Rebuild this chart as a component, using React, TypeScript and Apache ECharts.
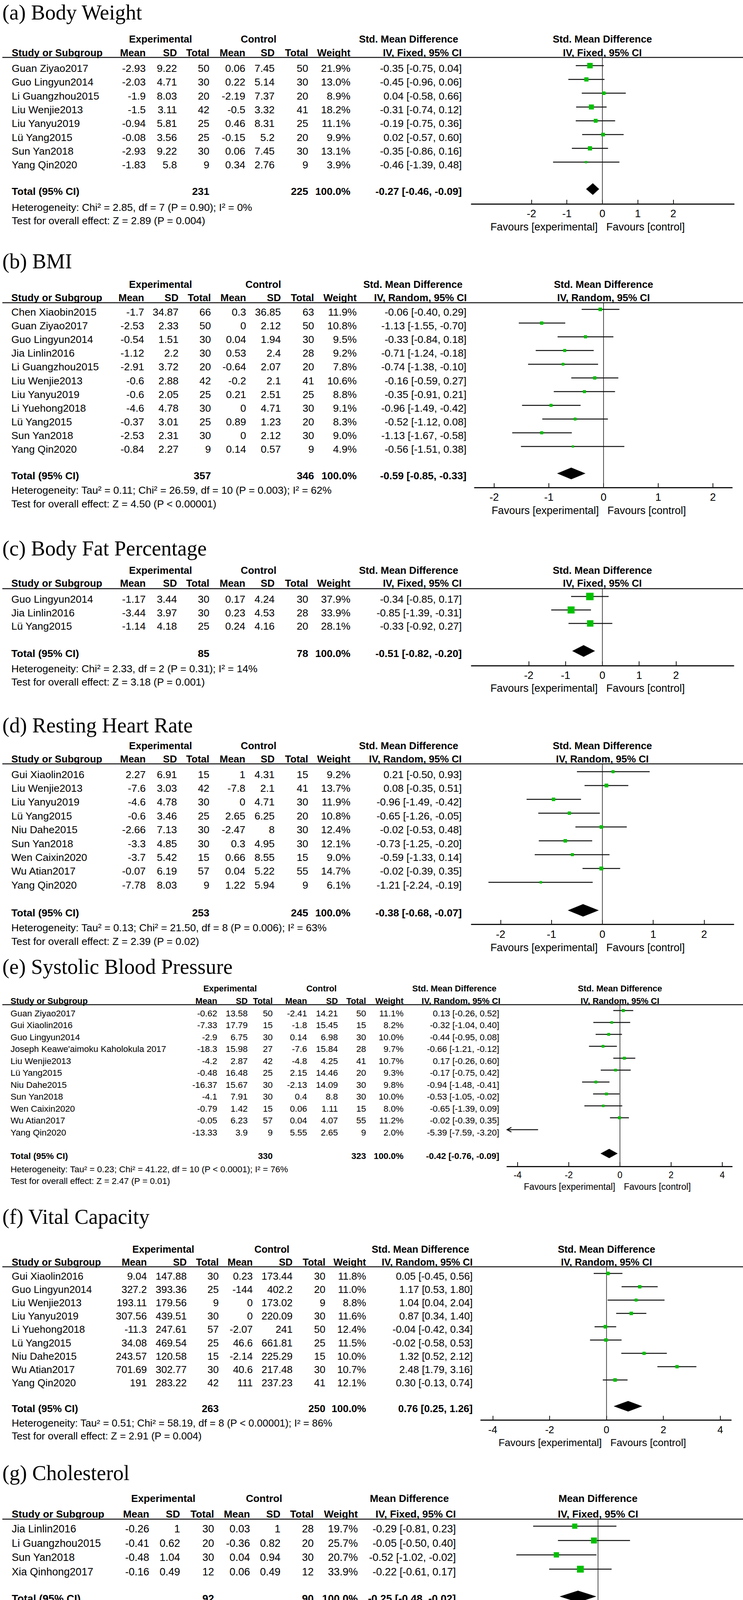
import React, { useEffect, useRef } from "react";
import * as echarts from "echarts";

// ---------------- DATA ----------------
// value columns: exp mean, exp SD, exp total, ctl mean, ctl SD, ctl total, weight %, estimate, CI low, CI high
const bodyWeightStudies = ["Guan Ziyao2017", "Guo Lingyun2014", "Li Guangzhou2015", "Liu Wenjie2013", "Liu Yanyu2019", "Lü Yang2015", "Sun Yan2018", "Yang Qin2020"];
const bodyWeightValues = [
  [-2.93, 9.22, 50, 0.06, 7.45, 50, 21.9, -0.35, -0.75, 0.04],
  [-2.03, 4.71, 30, 0.22, 5.14, 30, 13.0, -0.45, -0.96, 0.06],
  [-1.9, 8.03, 20, -2.19, 7.37, 20, 8.9, 0.04, -0.58, 0.66],
  [-1.5, 3.11, 42, -0.5, 3.32, 41, 18.2, -0.31, -0.74, 0.12],
  [-0.94, 5.81, 25, 0.46, 8.31, 25, 11.1, -0.19, -0.75, 0.36],
  [-0.08, 3.56, 25, -0.15, 5.2, 20, 9.9, 0.02, -0.57, 0.6],
  [-2.93, 9.22, 30, 0.06, 7.45, 30, 13.1, -0.35, -0.86, 0.16],
  [-1.83, 5.8, 9, 0.34, 2.76, 9, 3.9, -0.46, -1.39, 0.48],
];
const bodyWeightTotal = [231, 225, 100.0, -0.27, -0.46, -0.09];
const bodyWeightHet = "Heterogeneity: Chi² = 2.85, df = 7 (P = 0.90); I² = 0%";
const bodyWeightTest = "Test for overall effect: Z = 2.89 (P = 0.004)";

const bmiStudies = ["Chen Xiaobin2015", "Guan Ziyao2017", "Guo Lingyun2014", "Jia Linlin2016", "Li Guangzhou2015", "Liu Wenjie2013", "Liu Yanyu2019", "Li Yuehong2018", "Lü Yang2015", "Sun Yan2018", "Yang Qin2020"];
const bmiValues = [
  [-1.7, 34.87, 66, 0.3, 36.85, 63, 11.9, -0.06, -0.4, 0.29],
  [-2.53, 2.33, 50, 0, 2.12, 50, 10.8, -1.13, -1.55, -0.7],
  [-0.54, 1.51, 30, 0.04, 1.94, 30, 9.5, -0.33, -0.84, 0.18],
  [-1.12, 2.2, 30, 0.53, 2.4, 28, 9.2, -0.71, -1.24, -0.18],
  [-2.91, 3.72, 20, -0.64, 2.07, 20, 7.8, -0.74, -1.38, -0.1],
  [-0.6, 2.88, 42, -0.2, 2.1, 41, 10.6, -0.16, -0.59, 0.27],
  [-0.6, 2.05, 25, 0.21, 2.51, 25, 8.8, -0.35, -0.91, 0.21],
  [-4.6, 4.78, 30, 0, 4.71, 30, 9.1, -0.96, -1.49, -0.42],
  [-0.37, 3.01, 25, 0.89, 1.23, 20, 8.3, -0.52, -1.12, 0.08],
  [-2.53, 2.31, 30, 0, 2.12, 30, 9.0, -1.13, -1.67, -0.58],
  [-0.84, 2.27, 9, 0.14, 0.57, 9, 4.9, -0.56, -1.51, 0.38],
];
const bmiTotal = [357, 346, 100.0, -0.59, -0.85, -0.33];
const bmiHet = "Heterogeneity: Tau² = 0.11; Chi² = 26.59, df = 10 (P = 0.003); I² = 62%";
const bmiTest = "Test for overall effect: Z = 4.50 (P < 0.00001)";

const fatStudies = ["Guo Lingyun2014", "Jia Linlin2016", "Lü Yang2015"];
const fatValues = [
  [-1.17, 3.44, 30, 0.17, 4.24, 30, 37.9, -0.34, -0.85, 0.17],
  [-3.44, 3.97, 30, 0.23, 4.53, 28, 33.9, -0.85, -1.39, -0.31],
  [-1.14, 4.18, 25, 0.24, 4.16, 20, 28.1, -0.33, -0.92, 0.27],
];
const fatTotal = [85, 78, 100.0, -0.51, -0.82, -0.2];
const fatHet = "Heterogeneity: Chi² = 2.33, df = 2 (P = 0.31); I² = 14%";
const fatTest = "Test for overall effect: Z = 3.18 (P = 0.001)";

const hrStudies = ["Gui Xiaolin2016", "Liu Wenjie2013", "Liu Yanyu2019", "Lü Yang2015", "Niu Dahe2015", "Sun Yan2018", "Wen Caixin2020", "Wu Atian2017", "Yang Qin2020"];
const hrValues = [
  [2.27, 6.91, 15, 1, 4.31, 15, 9.2, 0.21, -0.5, 0.93],
  [-7.6, 3.03, 42, -7.8, 2.1, 41, 13.7, 0.08, -0.35, 0.51],
  [-4.6, 4.78, 30, 0, 4.71, 30, 11.9, -0.96, -1.49, -0.42],
  [-0.6, 3.46, 25, 2.65, 6.25, 20, 10.8, -0.65, -1.26, -0.05],
  [-2.66, 7.13, 30, -2.47, 8, 30, 12.4, -0.02, -0.53, 0.48],
  [-3.3, 4.85, 30, 0.3, 4.95, 30, 12.1, -0.73, -1.25, -0.2],
  [-3.7, 5.42, 15, 0.66, 8.55, 15, 9.0, -0.59, -1.33, 0.14],
  [-0.07, 6.19, 57, 0.04, 5.22, 55, 14.7, -0.02, -0.39, 0.35],
  [-7.78, 8.03, 9, 1.22, 5.94, 9, 6.1, -1.21, -2.24, -0.19],
];
const hrTotal = [253, 245, 100.0, -0.38, -0.68, -0.07];
const hrHet = "Heterogeneity: Tau² = 0.13; Chi² = 21.50, df = 8 (P = 0.006); I² = 63%";
const hrTest = "Test for overall effect: Z = 2.39 (P = 0.02)";

const sbpStudies = ["Guan Ziyao2017", "Gui Xiaolin2016", "Guo Lingyun2014", "Joseph Keawe'aimoku Kaholokula 2017", "Liu Wenjie2013", "Lü Yang2015", "Niu Dahe2015", "Sun Yan2018", "Wen Caixin2020", "Wu Atian2017", "Yang Qin2020"];
const sbpValues = [
  [-0.62, 13.58, 50, -2.41, 14.21, 50, 11.1, 0.13, -0.26, 0.52],
  [-7.33, 17.79, 15, -1.8, 15.45, 15, 8.2, -0.32, -1.04, 0.4],
  [-2.9, 6.75, 30, 0.14, 6.98, 30, 10.0, -0.44, -0.95, 0.08],
  [-18.3, 15.98, 27, -7.6, 15.84, 28, 9.7, -0.66, -1.21, -0.12],
  [-4.2, 2.87, 42, -4.8, 4.25, 41, 10.7, 0.17, -0.26, 0.6],
  [-0.48, 16.48, 25, 2.15, 14.46, 20, 9.3, -0.17, -0.75, 0.42],
  [-16.37, 15.67, 30, -2.13, 14.09, 30, 9.8, -0.94, -1.48, -0.41],
  [-4.1, 7.91, 30, 0.4, 8.8, 30, 10.0, -0.53, -1.05, -0.02],
  [-0.79, 1.42, 15, 0.06, 1.11, 15, 8.0, -0.65, -1.39, 0.09],
  [-0.05, 6.23, 57, 0.04, 4.07, 55, 11.2, -0.02, -0.39, 0.35],
  [-13.33, 3.9, 9, 5.55, 2.65, 9, 2.0, -5.39, -7.59, -3.2],
];
const sbpTotal = [330, 323, 100.0, -0.42, -0.76, -0.09];
const sbpHet = "Heterogeneity: Tau² = 0.23; Chi² = 41.22, df = 10 (P < 0.0001); I² = 76%";
const sbpTest = "Test for overall effect: Z = 2.47 (P = 0.01)";

const vcStudies = ["Gui Xiaolin2016", "Guo Lingyun2014", "Liu Wenjie2013", "Liu Yanyu2019", "Li Yuehong2018", "Lü Yang2015", "Niu Dahe2015", "Wu Atian2017", "Yang Qin2020"];
const vcValues = [
  [9.04, 147.88, 30, 0.23, 173.44, 30, 11.8, 0.05, -0.45, 0.56],
  [327.2, 393.36, 25, -144, 402.2, 20, 11.0, 1.17, 0.53, 1.8],
  [193.11, 179.56, 9, 0, 173.02, 9, 8.8, 1.04, 0.04, 2.04],
  [307.56, 439.51, 30, 0, 220.09, 30, 11.6, 0.87, 0.34, 1.4],
  [-11.3, 247.61, 57, -2.07, 241, 50, 12.4, -0.04, -0.42, 0.34],
  [34.08, 469.54, 25, 46.6, 661.81, 25, 11.5, -0.02, -0.58, 0.53],
  [243.57, 120.58, 15, -2.14, 225.29, 15, 10.0, 1.32, 0.52, 2.12],
  [701.69, 302.77, 30, 40.6, 217.48, 30, 10.7, 2.48, 1.79, 3.16],
  [191, 283.22, 42, 111, 237.23, 41, 12.1, 0.3, -0.13, 0.74],
];
const vcTotal = [263, 250, 100.0, 0.76, 0.25, 1.26];
const vcHet = "Heterogeneity: Tau² = 0.51; Chi² = 58.19, df = 8 (P < 0.00001); I² = 86%";
const vcTest = "Test for overall effect: Z = 2.91 (P = 0.004)";

const cholStudies = ["Jia Linlin2016", "Li Guangzhou2015", "Sun Yan2018", "Xia Qinhong2017"];
const cholValues = [
  [-0.26, 1, 30, 0.03, 1, 28, 19.7, -0.29, -0.81, 0.23],
  [-0.41, 0.62, 20, -0.36, 0.82, 20, 25.7, -0.05, -0.5, 0.4],
  [-0.48, 1.04, 30, 0.04, 0.94, 30, 20.7, -0.52, -1.02, -0.02],
  [-0.16, 0.49, 12, 0.06, 0.49, 12, 33.9, -0.22, -0.61, 0.17],
];
const cholTotal = [92, 90, 100.0, -0.25, -0.48, -0.02];
const cholHet = "Heterogeneity: Chi² = 1.92, df = 3 (P = 0.59); I² = 0%";
const cholTest = "Test for overall effect: Z = 2.17 (P = 0.03)";

const trigStudies = ["Jia Linlin2016", "Li Guangzhou2015", "Sun Yan2018", "Xia Qinhong2017"];
const trigValues = [
  [-0.16, 0.59, 30, 0, 0.74, 30, 17.0, -0.16, -0.5, 0.18],
  [-0.08, 0.88, 30, 0.02, 0.85, 28, 9.9, -0.1, -0.55, 0.35],
  [-0.21, 0.21, 12, 0.06, 0.25, 12, 57.2, -0.27, -0.45, -0.09],
  [-0.1, 0.53, 20, -0.06, 0.6, 20, 15.9, -0.04, -0.39, 0.31],
];
const trigTotal = [92, 90, 100.0, -0.2, -0.34, -0.06];
const trigHet = "Heterogeneity: Chi² = 1.60, df = 3 (P = 0.66); I² = 0%";
const trigTest = "Test for overall effect: Z = 2.78 (P = 0.005)";

const smdTicks = [-2, -1, 0, 1, 2];
const wideTicks = [-4, -2, 0, 2, 4];
const mdTicks = [-1, -0.5, 0, 0.5, 1];

// ---------------- LAYOUT ----------------
const FONT = "'Liberation Sans', Arial, sans-serif";
const SERIF = "'Liberation Serif', 'Times New Roman', serif";
const GREEN = "#00c000";

const colsAD = [373, 453, 536, 628, 703, 789, 897, 1182];
const colsGH = [382, 461, 548, 640, 718, 803, 916, 1167];

const panels: any[] = [
  { title: "(a) Body Weight", measure: "Std. Mean Difference", model: "IV, Fixed, 95% CI",
    studies: bodyWeightStudies, values: bodyWeightValues, total: bodyWeightTotal, het: bodyWeightHet, test: bodyWeightTest, ticks: smdTicks,
    L: { fs: 26.5, tfs: 27, titleY: 32, h1Y: 100, h2Y: 135, lineY: 147, rowY0: 175, rowStep: 35.3, totalY: 490, hetY: 531, testY: 565,
      axisY: 522.5, tickY: 547, favY: 581, studyX: 30, cols: colsAD, expC: 411, ctlC: 662, ciH1R: 1173, ciH2R: 1182,
      zeroX: 1542, unit: 90.8, axMin: -3.69, axMax: 3.71, k: 3.0, dh: 15 } },
  { title: "(b) BMI", measure: "Std. Mean Difference", model: "IV, Random, 95% CI",
    studies: bmiStudies, values: bmiValues, total: bmiTotal, het: bmiHet, test: bmiTest, ticks: smdTicks,
    L: { fs: 26.5, tfs: 27, titleY: 669, h1Y: 728, h2Y: 762, lineY: 775, rowY0: 799, rowStep: 35.1, totalY: 1218, hetY: 1255, testY: 1290,
      axisY: 1248, tickY: 1273, favY: 1307, studyX: 29, cols: [369, 457, 540, 630, 719, 804, 913, 1194], expC: 411, ctlC: 674, ciH1R: 1184, ciH2R: 1195,
      zeroX: 1545, unit: 140, axMin: -2.357, axMax: 2.35, k: 2.6, dh: 15 } },
  { title: "(c) Body Fat Percentage", measure: "Std. Mean Difference", model: "IV, Fixed, 95% CI",
    studies: fatStudies, values: fatValues, total: fatTotal, het: fatHet, test: fatTest, ticks: smdTicks,
    L: { fs: 26.5, tfs: 27, titleY: 1404, h1Y: 1460, h2Y: 1493, lineY: 1507, rowY0: 1534, rowStep: 34.5, totalY: 1672.5, hetY: 1712, testY: 1746,
      axisY: 1704, tickY: 1729, favY: 1762, studyX: 29, cols: colsAD, expC: 411, ctlC: 662, ciH1R: 1173, ciH2R: 1182,
      zeroX: 1542, unit: 94.2, axMin: -3.556, axMax: 3.567, k: 3.1, dh: 15 } },
  { title: "(d) Resting Heart Rate", measure: "Std. Mean Difference", model: "IV, Random, 95% CI",
    studies: hrStudies, values: hrValues, total: hrTotal, het: hrHet, test: hrTest, ticks: smdTicks,
    L: { fs: 26.5, tfs: 27, titleY: 1857, h1Y: 1908.5, h2Y: 1943, lineY: 1955.5, rowY0: 1982.5, rowStep: 35.4, totalY: 2336.5, hetY: 2375, testY: 2410,
      axisY: 2366, tickY: 2392, favY: 2425.5, studyX: 29, cols: colsAD, expC: 411, ctlC: 662, ciH1R: 1173, ciH2R: 1182,
      zeroX: 1542, unit: 130.2, axMin: -2.573, axMax: 2.58, k: 2.6, dh: 16 } },
  { title: "(e) Systolic Blood Pressure", measure: "Std. Mean Difference", model: "IV, Random, 95% CI",
    studies: sbpStudies, values: sbpValues, total: sbpTotal, het: sbpHet, test: sbpTest, ticks: wideTicks,
    L: { fs: 22.5, tfs: 23, titleY: 2475, h1Y: 2530, h2Y: 2562, lineY: 2572, rowY0: 2594, rowStep: 30.5, totalY: 2959, hetY: 2993, testY: 3023.7,
      axisY: 2986, tickY: 3008, favY: 3037.5, studyX: 27, cols: [556, 634, 698, 786, 865, 937, 1033, 1278], expC: 589, ctlC: 823, ciH1R: 1271, ciH2R: 1281,
      zeroX: 1587, unit: 65.5, axMin: -4.41, axMax: 4.38, k: 2.3, dh: 12 } },
  { title: "(f) Vital Capacity", measure: "Std. Mean Difference", model: "IV, Random, 95% CI",
    studies: vcStudies, values: vcValues, total: vcTotal, het: vcHet, test: vcTest, ticks: wideTicks,
    L: { fs: 26, tfs: 26, titleY: 3115, h1Y: 3197.6, h2Y: 3231, lineY: 3243, rowY0: 3267, rowStep: 34.1, totalY: 3606, hetY: 3643, testY: 3676,
      axisY: 3635.5, tickY: 3660, favY: 3693, studyX: 30, cols: [376, 478, 560, 647, 749, 833, 937, 1210], expC: 418, ctlC: 696, ciH1R: 1201, ciH2R: 1210,
      zeroX: 1552.6, unit: 72.8, axMin: -4.417, axMax: 4.38, k: 2.6, dh: 13.5 } },
  { title: "(g) Cholesterol", measure: "Mean Difference", model: "IV, Fixed, 95% CI",
    studies: cholStudies, values: cholValues, total: cholTotal, het: cholHet, test: cholTest, ticks: mdTicks,
    L: { fs: 27, tfs: 27, titleY: 3771, h1Y: 3836, h2Y: 3875.6, lineY: 3889, rowY0: 3914, rowStep: 36.7, totalY: 4093, hetY: 4132, testY: 4168,
      axisY: 4124, tickY: 4150, favY: 4184, studyX: 30, cols: colsGH, expC: 418, ctlC: 676, ciH1R: 1149, ciH2R: 1167,
      zeroX: 1530.8, unit: 205, axMin: -1.654, axMax: 1.648, k: 3.0, dh: 15 } },
  { title: "(h) Triglycerides", measure: "Mean Difference", model: "IV, Fixed, 95% CI",
    studies: trigStudies, values: trigValues, total: trigTotal, het: trigHet, test: trigTest, ticks: mdTicks,
    L: { fs: 27, tfs: 27, titleY: 4270, h1Y: 4336, h2Y: 4372, lineY: 4386, rowY0: 4410, rowStep: 36.7, totalY: 4590, hetY: 4628, testY: 4664,
      axisY: 4620.5, tickY: 4646, favY: 4679, studyX: 30, cols: colsGH, expC: 418, ctlC: 676, ciH1R: 1149, ciH2R: 1167,
      zeroX: 1530.8, unit: 205, axMin: -1.654, axMax: 1.648, k: 3.6, dh: 14.5 } },
];

const ciText = (e: number, l: number, h: number) => `${e.toFixed(2)} [${l.toFixed(2)}, ${h.toFixed(2)}]`;

function buildOption() {
  const graphic: any[] = [];
  const grid: any[] = [];
  const xAxis: any[] = [];
  const yAxis: any[] = [];
  const series: any[] = [];

  panels.forEach((P, pi) => {
    const L = P.L;
    const t = (x: number, y: number, s: string, align = "left", bold = false, size = L.fs, family = FONT) =>
      graphic.push({
        type: "text", x, y, silent: true,
        style: { text: s, textAlign: align, textVerticalAlign: "middle", fontSize: size, fontFamily: family, fontWeight: bold ? "bold" : "normal", fill: "#000" },
      });
    const hfs = L.fs * 0.97;
    t(6, L.titleY, P.title, "left", false, 54, SERIF);
    t(L.expC, L.h1Y, "Experimental", "center", true, hfs);
    t(L.ctlC, L.h1Y, "Control", "center", true, hfs);
    t(L.ciH1R, L.h1Y, P.measure, "right", true, hfs);
    t(L.zeroX, L.h1Y, P.measure, "center", true, hfs);
    t(L.studyX, L.h2Y, "Study or Subgroup", "left", true, hfs);
    ["Mean", "SD", "Total", "Mean", "SD", "Total", "Weight"].forEach((h, j) => t(L.cols[j], L.h2Y, h, "right", true, hfs));
    t(L.ciH2R, L.h2Y, P.model, "right", true, hfs);
    t(L.zeroX, L.h2Y, P.model, "center", true, hfs);
    graphic.push({ type: "line", silent: true, shape: { x1: 6, y1: L.lineY, x2: 1902, y2: L.lineY }, style: { stroke: "#111", lineWidth: 2.5 } });

    P.studies.forEach((name: string, r: number) => {
      const v = P.values[r];
      const y = L.rowY0 + r * L.rowStep;
      t(L.studyX, y, name);
      for (let j = 0; j < 6; j++) t(L.cols[j], y, String(v[j]), "right");
      t(L.cols[6], y, v[6].toFixed(1) + "%", "right");
      t(L.cols[7], y, ciText(v[7], v[8], v[9]), "right");
    });
    const T = P.total;
    t(L.studyX, L.totalY, "Total (95% CI)", "left", true);
    t(L.cols[2], L.totalY, String(T[0]), "right", true);
    t(L.cols[5], L.totalY, String(T[1]), "right", true);
    t(L.cols[6], L.totalY, T[2].toFixed(1) + "%", "right", true);
    t(L.cols[7], L.totalY, ciText(T[3], T[4], T[5]), "right", true);
    t(L.studyX, L.hetY, P.het);
    t(L.studyX, L.testY, P.test);
    t(L.zeroX - 12, L.favY, "Favours [experimental]", "right", false, L.tfs);
    t(L.zeroX + 10, L.favY, "Favours [control]", "left", false, L.tfs);

    grid.push({
      left: L.zeroX + L.axMin * L.unit, top: L.lineY, width: (L.axMax - L.axMin) * L.unit, height: L.axisY - L.lineY,
      outerBoundsMode: "none", containLabel: false,
    });
    xAxis.push({
      type: "value", gridIndex: pi, min: L.axMin, max: L.axMax, position: "bottom",
      axisLine: { show: true, onZero: false, lineStyle: { color: "#111", width: 3 } },
      axisTick: { show: true, inside: true, length: 11, customValues: P.ticks, lineStyle: { color: "#111", width: 2 } },
      axisLabel: { show: true, customValues: P.ticks, margin: L.tickY - L.axisY - L.tfs / 2, fontSize: L.tfs, fontFamily: FONT, color: "#000", formatter: (v: number) => String(v) },
      splitLine: { show: false },
    });
    yAxis.push({ type: "value", gridIndex: pi, min: L.lineY, max: L.axisY, inverse: true, show: false });

    // zero line
    series.push({
      type: "custom", xAxisIndex: pi, yAxisIndex: pi, silent: true,
      data: [[0, L.lineY, L.axisY]],
      renderItem: (params: any, api: any) => {
        const a = api.coord([api.value(0), api.value(1)]);
        const b = api.coord([api.value(0), api.value(2)]);
        return { type: "line", shape: { x1: a[0], y1: a[1], x2: b[0], y2: b[1] }, style: { stroke: "#222", lineWidth: 1.6 } };
      },
    });
    // study markers
    series.push({
      type: "custom", xAxisIndex: pi, yAxisIndex: pi, silent: true,
      data: P.values.map((v: number[], r: number) => [v[7], v[8], v[9], v[6], L.rowY0 + r * L.rowStep - 7]),
      renderItem: (params: any, api: any) => {
        const est = api.value(0), lo = api.value(1), hi = api.value(2), w = api.value(3), y = api.value(4);
        const cl = Math.max(lo, L.axMin), ch = Math.min(hi, L.axMax);
        const p1 = api.coord([cl, y]), p2 = api.coord([ch, y]);
        const kids: any[] = [
          { type: "line", shape: { x1: p1[0], y1: p1[1], x2: p2[0], y2: p2[1] }, style: { stroke: "#111", lineWidth: 2.5 } },
        ];
        if (lo < L.axMin) {
          kids.push({ type: "polyline", shape: { points: [[p1[0] + 11, p1[1] - 6], [p1[0], p1[1]], [p1[0] + 11, p1[1] + 6]] }, style: { stroke: "#111", lineWidth: 2.5, fill: null } });
        }
        if (hi > L.axMax) {
          kids.push({ type: "polyline", shape: { points: [[p2[0] - 11, p2[1] - 6], [p2[0], p2[1]], [p2[0] - 11, p2[1] + 6]] }, style: { stroke: "#111", lineWidth: 2.5, fill: null } });
        }
        if (est >= L.axMin && est <= L.axMax) {
          const c = api.coord([est, y]);
          const s = L.k * Math.sqrt(w);
          kids.push({ type: "rect", shape: { x: c[0] - s / 2, y: c[1] - s / 2, width: s, height: s }, style: { fill: GREEN } });
        }
        return { type: "group", children: kids };
      },
    });
    // total diamond
    series.push({
      type: "custom", xAxisIndex: pi, yAxisIndex: pi, silent: true,
      data: [[T[3], T[4], T[5], L.totalY - 6]],
      renderItem: (params: any, api: any) => {
        const y = api.value(3);
        const pl = api.coord([api.value(1), y]);
        const pe = api.coord([api.value(0), y]);
        const ph = api.coord([api.value(2), y]);
        return {
          type: "polygon",
          shape: { points: [[pl[0], pl[1]], [pe[0], pe[1] - L.dh], [ph[0], ph[1]], [pe[0], pe[1] + L.dh]] },
          style: { fill: "#000" },
        };
      },
    });
  });

  return { animation: false, backgroundColor: "#fff", graphic, grid, xAxis, yAxis, series };
}

export default function App() {
  const ref = useRef<HTMLDivElement>(null);
  useEffect(() => {
    if (!ref.current) return;
    const chart = echarts.init(ref.current, null, { renderer: "svg" });
    chart.setOption(buildOption() as any);
    return () => chart.dispose();
  }, []);
  return <div ref={ref} style={{ position: "absolute", left: 0, top: 0, width: 1902, height: 4700, background: "#fff" }} />;
}
